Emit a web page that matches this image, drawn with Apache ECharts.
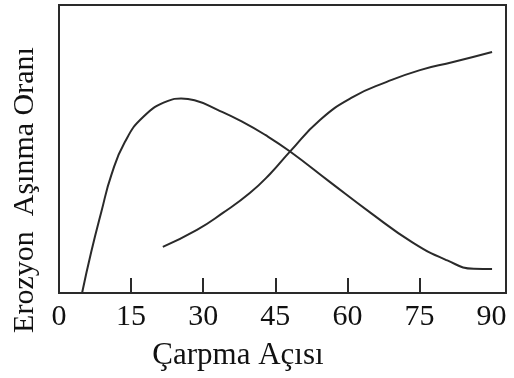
<!DOCTYPE html>
<html>
<head>
<meta charset="utf-8">
<script src="https://cdn.jsdelivr.net/npm/echarts@6/dist/echarts.min.js"></script>
<style>
html,body{margin:0;padding:0;background:#fff;}
#chart{width:514px;height:378px;}
</style>
</head>
<body>
<div id="chart"></div>
<script>
// Data
var xTickLabels = [0, 15, 30, 45, 60, 75, 90];
var xTickMarks = [15, 30, 45, 60, 75];
var xTitle = 'Çarpma Açısı';
var yTitle = 'Erozyon  Aşınma Oranı';

// Curve 1: rises steeply, peaks near 26°, then falls
var curve1Angle = [4.8, 6.7, 8.8, 10.9, 13.7, 17.5, 22.7, 25.4, 28.2, 33.0, 38.0, 43.0, 48.0, 56.4, 64.7, 73.6, 80.8, 86.3, 90.1];
var curve1Rate  = [0, 14.2, 28.1, 41.0, 52.4, 61.1, 66.7, 67.5, 66.9, 63.6, 59.6, 54.8, 49.2, 38.5, 28.0, 17.5, 11.3, 8.4, 8.3];

// Curve 2: rises steadily from ~22° to 90°
var curve2Angle = [21.6, 28.7, 34.1, 39.7, 44.0, 48.0, 54.3, 61.2, 68.2, 75.1, 82.0, 90.1];
var curve2Rate  = [16.0, 21.9, 27.8, 34.7, 41.5, 49.0, 60.1, 68.1, 73.3, 77.4, 80.2, 83.7];

function pairs(xs, ys) {
  var out = [];
  for (var i = 0; i < xs.length; i++) out.push([xs[i], ys[i]]);
  return out;
}

var chart = echarts.init(document.getElementById('chart'), null, {renderer: 'canvas'});
var serif = '"Liberation Serif", "DejaVu Serif", serif';
var lineCol = '#2a2a2a';

chart.setOption({
  animation: false,
  backgroundColor: '#fff',
  grid: {
    left: 59, right: 8, top: 5, bottom: 85,
    show: true, borderColor: lineCol, borderWidth: 2, backgroundColor: 'transparent'
  },
  xAxis: {
    type: 'value', min: 0, max: 93, interval: 15,
    axisLine: {show: false},
    splitLine: {show: false},
    axisTick: {show: true, inside: true, length: 15, customValues: xTickMarks,
      lineStyle: {color: lineCol, width: 2}},
    axisLabel: {customValues: xTickLabels, fontFamily: serif, fontSize: 30,
      color: '#111', margin: 9}
  },
  yAxis: {
    type: 'value', min: 0, max: 100,
    axisLine: {show: false}, axisTick: {show: false},
    axisLabel: {show: false}, splitLine: {show: false}
  },
  graphic: [
    {type: 'text', x: 238, y: 356, style: {text: xTitle, font: '31px ' + serif,
      fill: '#111', textAlign: 'center', textVerticalAlign: 'middle'}},
    {type: 'text', x: 25, y: 190, rotation: Math.PI / 2, style: {text: yTitle, font: '30px ' + serif,
      fill: '#111', textAlign: 'center', textVerticalAlign: 'middle'}}
  ],
  series: [
    {type: 'line', data: pairs(curve1Angle, curve1Rate), smooth: 0.5, showSymbol: false,
      lineStyle: {color: lineCol, width: 2}},
    {type: 'line', data: pairs(curve2Angle, curve2Rate), smooth: 0.5, showSymbol: false,
      lineStyle: {color: lineCol, width: 2}}
  ]
});
</script>
</body>
</html>
